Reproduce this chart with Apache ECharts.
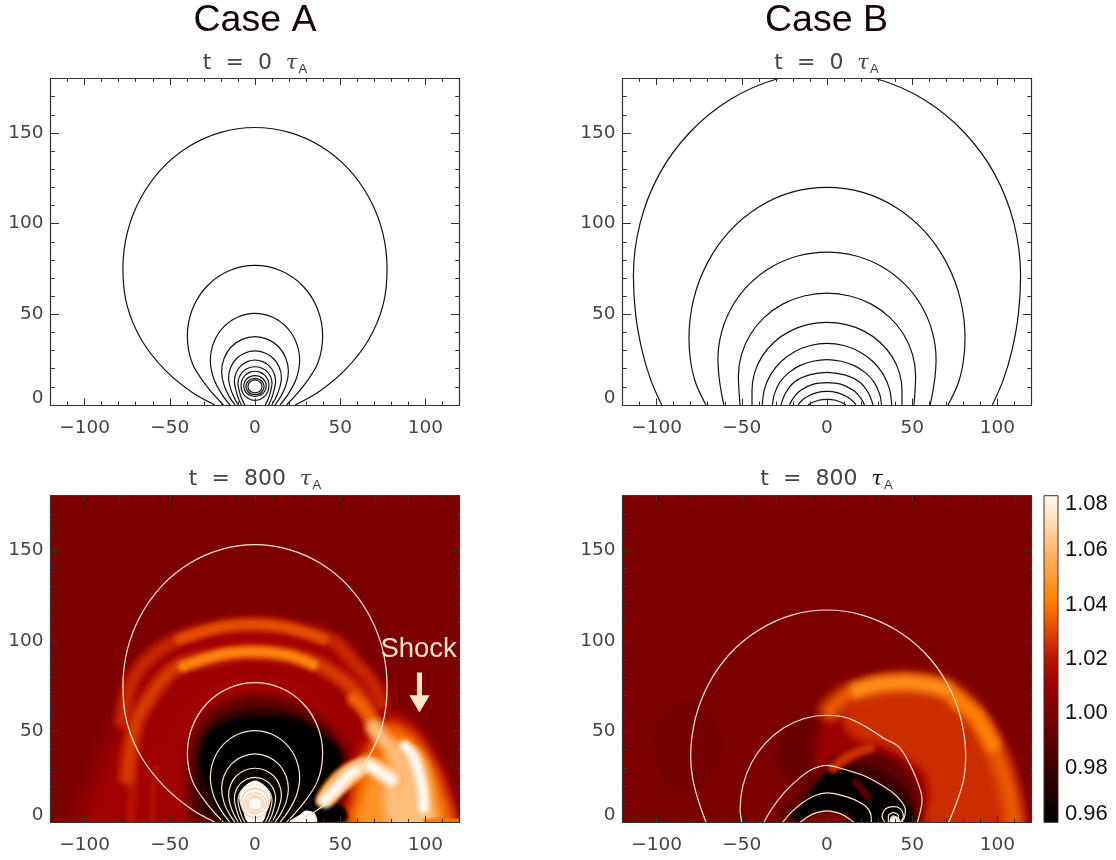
<!DOCTYPE html>
<html><head><meta charset="utf-8">
<style>html,body{margin:0;padding:0;background:#fff}#c{width:1116px;height:860px}</style>
<script src="https://cdn.jsdelivr.net/npm/echarts@6/dist/echarts.min.js"></script>
</head><body><div id="c"></div>
<script>
// ---------- axis ticks ----------
const xMajor=[-100,-50,0,50,100];
const xMinor=[-110,-90,-80,-70,-60,-40,-30,-20,-10,10,20,30,40,60,70,80,90,110];
const yMajor=[0,50,100,150];
const yMinor=[10,20,30,40,60,70,80,90,110,120,130,140,160,170];
const barTicks=[0.96,0.98,1.00,1.02,1.04,1.06,1.08];
// colour ramp, one colour every 0.01 from 0.96 to 1.08
const ramp=['#000000','#1e0000','#3c0000','#5c0000','#7d0000','#9c0000','#b81400','#de4600','#ff7a00','#ff9a30','#ffb86e','#ffdcb4','#fffaf4'];

// ---------- contours: half profiles, mirrored about x=0 ----------
const contoursA=[
 [[0,153],[20.1,150.3],[38.8,142.5],[54.8,130.2],[67.1,114],[74.9,95.2],[77.5,75],[75,54.6],[66.5,35.7],[53,19.5],[37,7],[23.5,0]],
 [[0,77],[15.2,74],[28.1,65.6],[36.7,52.9],[39.7,38],[36.7,22.7],[28,10],[18.5,0]],
 [[0,50.5],[10,48.5],[18.5,42.9],[24.2,34.5],[26.2,24.5],[24.2,14.5],[19.5,6],[14.7,0]],
 [[0,37.7],[7.5,36.2],[13.9,32.1],[18.1,25.8],[19.6,18.5],[18.2,11],[15,4.5],[11.7,0]],
 [[0,29.8],[5.9,28.7],[11,25.5],[14.3,20.7],[15.5,15],[14.4,9.3],[12.2,4],[9.8,0]],
 [[0,24.8],[4.6,23.9],[8.6,21.3],[11.2,17.5],[12.1,13],[11.2,8.2],[9.8,3.8],[8,0]],
 [[0,21.1],[3.8,20.4],[7.1,18.4],[9.2,15.5],[10,12],[9.2,7.5],[7.8,3.4],[6,0]],
 [[0,18.6],[3.1,18],[5.8,16.3],[7.6,13.8],[8.2,10.8],[7.6,7.6],[5.8,4.9],[3.1,3.2],[0,2.5]],
 [[0,16.2],[2.5,15.8],[4.7,14.5],[6.1,12.7],[6.6,10.5],[6.1,8.3],[4.7,6.5],[2.5,5.2],[0,4.7]],
 [[0,14.7],[2,14.3],[3.7,13.4],[4.9,11.9],[5.3,10.2],[4.9,8.5],[3.7,7],[2,6],[0,5.7]],
 [[0,13.8],[1.6,13.5],[2.9,12.7],[3.8,11.6],[4.1,10.2],[3.8,8.8],[2.9,7.7],[1.6,7],[0,6.7]]
];
const contoursB=[
 [[0,183.5],[29.4,179.7],[56.8,168.4],[80.3,150.5],[98.4,127.3],[109.7,100.1],[113.6,71],[112.3,50],[108.5,30],[103.5,14],[97,0]],
 [[0,120],[21,117.2],[40.5,108.9],[57.3,95.7],[70.1,78.5],[78.2,58.5],[81,37],[80,24],[77,12],[71,0]],
 [[0,84.3],[16.6,82.3],[32,76.4],[45.3,66.9],[55.4,54.7],[61.8,40.3],[64,25],[63.3,15],[62,7],[60.5,0]],
 [[0,61.7],[13.5,60.1],[26,55.6],[36.8,48.3],[45,38.9],[50.2,27.8],[52,16],[51.6,7],[51,0]],
 [[0,45.6],[11.4,44.3],[22,40.6],[31.1,34.6],[38.1,26.8],[42.5,17.7],[44,8],[44,0]],
 [[0,34],[9.8,32.8],[19,29.4],[26.9,24],[32.9,17],[36.7,8.8],[38,0]],
 [[0,25],[8.3,24.1],[16,21.7],[22.6,17.7],[27.7,12.5],[30.9,6],[32,0]],
 [[0,18],[10.3,16.6],[19.1,12.7],[24.4,6.5],[27,0]],
 [[0,12.3],[8.4,11.4],[15.6,8],[19.8,3.8],[22,0]],
 [[0,7.5],[6,6.8],[12,4.4],[15.5,1.8],[17,0]],
 [[0,3.1],[5,2.6],[9,1.2],[11,0]]
];
// Case B at t=800: contours are no longer symmetric
const contoursB800=[
 [[-71,0],[-75.5,12],[-78.8,24],[-80,36],[-77.3,57],[-69.3,76.5],[-56.6,93.3],[-40,106],[-20.7,114.2],[0,117],[20.7,114.2],[40.5,106],[57.5,93.3],[70.5,76.5],[78.6,57],[81.4,36],[80.3,24],[76.5,12],[71.4,0]],
 [[-50,0],[-51,7],[-49.3,20.5],[-44.2,33],[-36,43.8],[-25.5,52],[-13.2,57.2],[0,59],[12,57.5],[24,52],[33,46.5],[42,41.7],[47.5,34],[52,25],[55,17],[55.8,12],[54.5,5],[53,0]],
 [[-37,0],[-32,8],[-25,16.5],[-16,24.5],[-8,29.5],[0,31.4],[7.8,29.8],[16,27.5],[23.5,25],[32,20.5],[39,16],[44,11],[46,6.8],[45.5,3],[44,0]],
 [[-26,0],[-21,5.5],[-14,11],[-7,14.8],[0,16.2],[8,15],[16,12.5],[23,8.6],[25.8,4],[26,0]],
 [[-15.7,0],[-11,3.2],[-6,5.3],[0,6.3],[6,5.3],[11,3.2],[15.7,0]],
 [[34,0],[32.3,3],[33.5,6.5],[36,8.2],[39,8.6],[42,8.2],[44.2,6],[44.8,3],[43,0]],
 [[36,0],[36,3.5],[39,5.3],[42,3.5],[42,0]],
 [[37,0],[37.5,2.5],[39,3.5],[40.5,2.5],[41,0]]
];

// ---------- density field, read off the picture as layered regions ----------
// l: density level, s: style key, p: outline in data units
const layersA=[
 {l:1.00,s:'flat',p:[[-125,-5],[125,-5],[125,185],[-125,185]]},
 {l:1.011,s:'wide',p:[[-92,-5],[-86,25],[-76,48],[-64,64],[-48,78],[-30,88],[-10,92],[10,92],[30,88],[50,78],[66,60],[66,-5]]},
 {l:1.02,s:'band8',p:[[-73,-2],[-72,20],[-73,42]]},
 {l:1.018,s:'band6',p:[[-60,-2],[-60,15],[-58,30]]},
 {l:1.013,s:'band30',p:[[-70,58],[-60,75],[-45,88],[-20,98],[0,100],[25,98],[45,90],[60,74],[68,60]]},
 {l:1.024,s:'band12',p:[[-78,56],[-72,78],[-60,92],[-42,102],[-20,107.5],[0,109],[20,107],[46,99.6],[58,88],[69,76.6],[74,66]]},
 {l:1.032,s:'band8',p:[[-44,101],[-20,107.5],[0,109],[20,107],[40,101]]},
 {l:1.028,s:'band12',p:[[-75,25],[-73,41.7],[-67.5,60],[-48,84],[-25,91],[0,94],[30,89.5],[46,82],[62,69],[69.5,52.8]]},
 {l:1.044,s:'band8',p:[[-42,86],[-20,92.5],[0,94],[20,92],[34,87]]},
 {l:0.99,s:'soft',p:[[-30,2],[-35,25],[-33,44],[-24,57],[-5,65],[20,62],[36,53],[48,41],[52,30],[46,8],[36,2]]},
 {l:0.975,s:'mild',p:[[-27,5],[-33,28],[-30,45],[-19,56],[0,61],[22,58],[37,50],[49,38],[47,24],[41,12],[35,2]]},
 {l:0.96,s:'mild',p:[[-20,8],[-29,28],[-27,44],[-18,52],[0,56],[25,54],[38,46],[48,36],[44,27],[36,14],[33,2],[15,0],[-15,0]]},
 {l:1.02,s:'soft',p:[[56,0],[59,16],[61,30],[67,44],[73,54],[82,56],[93,49],[103,35],[111,18],[114,0]]},
 {l:1.036,s:'soft',p:[[60,0],[62,14],[64,28],[72,41],[79,50],[90,45],[100,32],[107,16],[110,0]]},
 {l:1.048,s:'soft',p:[[66,0],[68,14],[72,25],[79,35],[84,42],[90,39],[97,29],[102,14],[104,0]]},
 {l:1.062,s:'soft',p:[[84,0],[80,16],[83,28],[89,36],[94,34],[98,22],[100,8],[100,0]]},
 {l:1.036,s:'band10',p:[[58,68],[66,60],[72,50],[76,42]]},
 {l:1.062,s:'band12',p:[[70,52],[75,46],[78,43],[84,34],[86,28]]},
 {l:1.08,s:'band8',p:[[88,42],[92,38],[96,28],[98.5,16],[99,8]]},
 {l:0.96,s:'mild',p:[[38,6],[44,8],[50,7],[52,3],[48,2],[39,2]]},
 {l:1.05,s:'mild',p:[[38,12],[44,22],[52,29],[61,33],[66,31],[59,24],[50,17],[43,11]]},
 {l:1.08,s:'band10',p:[[41,12],[44,15],[48,19],[55,26],[60,29],[63,31]]},
 {l:1.058,s:'band12',p:[[66,32],[70,30],[73,28],[78,25],[82,23]]},
 {l:1.08,s:'band10',p:[[68,31],[70,30],[73,28],[77,25.5],[80,23.5]]},
 {l:1.04,s:'band3',p:[[100,1],[110,1],[120,1]]},
 {l:1.08,s:'sharp',p:[[20,0],[26,4],[30,6.5],[35,5],[36,0]]},
 {l:1.08,s:'sharp',p:[[-4,0],[-7,6],[-9.3,13],[-7,19],[0,23],[7,19],[9.3,13],[7,6],[4,0]]}
];
const layersB=[
 {l:1.00,s:'flat',p:[[-125,-5],[125,-5],[125,185],[-125,185]]},
 {l:0.998,s:'soft',p:[[-95,50],[-82,60],[-70,52],[-72,30],[-88,22]]},
 {l:0.994,s:'soft',p:[[-22,30],[-20,48],[-12,52],[-8,40],[-10,28]]},
 {l:1.01,s:'soft',p:[[-2,32],[0,50],[8,62],[25,72],[50,74],[72,70],[88,58],[101,42],[109,20],[111,0],[20,0]]},
 {l:1.025,s:'soft',p:[[14,58],[26,66],[45,70],[66,68],[82,56],[94,40],[102,20],[105,0],[62,0],[64,15],[60,30],[46,40],[32,47],[18,50]]},
 {l:1.034,s:'band16',p:[[2,62],[12,70],[28,75],[45,77],[68,74],[86,60],[98,41],[106,20],[110,0]]},
 {l:1.046,s:'band12',p:[[18,73],[30,76],[45,77],[60,75.5],[70,73]]},
 {l:1.042,s:'band12',p:[[76,68],[82,63],[87,59],[93,50],[97,43]]},
 {l:0.99,s:'soft',p:[[-22,3],[-13,14],[-4,23],[6,31],[20,35],[36,31],[46,22],[50,10],[49,3]]},
 {l:0.98,s:'mild',p:[[-20,3],[-12,10],[-4,21],[6,28],[24,29],[40,21],[48,10],[48,2]]},
 {l:0.96,s:'mild',p:[[-18,4],[-12,9],[-4,20],[6,27],[25,21],[38,14],[46,7],[47,1],[18,0],[15,6],[0,8],[-15,5]]},
 {l:1.00,s:'mild',p:[[-13,-3],[-8,2],[0,4],[8,2],[13,-3]]},
 {l:1.026,s:'band8',p:[[4,30],[9,34],[14,37],[19,39],[25,41]]},
 {l:0.99,s:'band6',p:[[17,22],[24,14]]},
 {l:1.08,s:'sharp',p:[[37,0],[38,2.5],[40,3.5],[42,2.5],[43,0]]}
];
// annotation in Case A, t=800
const shockLabel=[96,95.5,'Shock'];
const shockArrow=[[95,82.5],[98,82.5],[98,70],[102.5,70],[96.5,60.5],[90.5,70],[95,70]];

// ---------- layout and styles ----------
const FONT='"DejaVu Sans"', HELV='"Liberation Sans"';
const panels=[
 {left:50.5,top:78.5,width:409,height:326.5},
 {left:622.5,top:78.5,width:409,height:326.5},
 {left:50.5,top:495.7,width:409,height:326.6},
 {left:622.5,top:495.7,width:409,height:326.6}
];
const styles={
 flat:{f:0},sharp:{f:0},mild:{f:7},soft:{f:16},wide:{f:34},
 band3:{w:3},band6:{w:6},band8:{w:8},band10:{w:10},band12:{w:12},band16:{w:16},band30:{w:30}
};
const xAxis=[],yAxis=[],series=[],title=[];
function addAxes(g){
 const base={type:'value',gridIndex:g,z:10,splitLine:{show:false}};
 const mk=(vals,pos,len,labels,showLine,isX)=>Object.assign({},base,{
  position:pos,
  min:isX?-120:0,max:isX?120:180,
  axisLine:{show:showLine,onZero:false,lineStyle:{color:'#333',width:1.2}},
  axisTick:{show:true,inside:true,length:len,customValues:vals,lineStyle:{color:'#333',width:1}},
  axisLabel:labels?{show:true,customValues:vals,fontFamily:FONT,fontSize:18.5,color:'#444',lineHeight:14,
    margin:isX?16:7,verticalAlignMinLabel:isX?undefined:'bottom',
    formatter:v=>String(v).replace('-','\u2212')}:{show:false}
 });
 const xi=xAxis.length,yi=yAxis.length;
 xAxis.push(mk(xMajor,'bottom',6.5,true,true,true),mk(xMinor,'bottom',3.5,false,false,true),
            mk(xMajor,'top',6.5,false,true,true),mk(xMinor,'top',3.5,false,false,true));
 yAxis.push(mk(yMajor,'left',8.5,true,true,false),mk(yMinor,'left',4.3,false,false,false),
            mk(yMajor,'right',8.5,false,true,false),mk(yMinor,'right',4.3,false,false,false));
 return [xi,yi];
}
function mirrored(h){return h.slice().reverse().map(p=>[-p[0],p[1]]).concat(h.slice(1));}
function addLines(axes,lines,color,width){
 lines.forEach(d=>series.push({type:'line',xAxisIndex:axes[0],yAxisIndex:axes[1],data:d,showSymbol:false,smooth:.33,
   silent:true,z:3,clip:true,lineStyle:{color:color,width:width}}));
}
// opacity of each nested stroke so that the stacked strokes fall off along an S curve
function softSteps(N,peak){
 const out=[];let prev=0;
 for(let k=N;k>=1;k--){
  const t=(N-k+1)/N,c=peak*t*t*(3-2*t);
  out.push({k,a:(c-prev)/(1-prev)});prev=c;
 }
 return out;
}
const heatSeries=[];
function addField(axes,layers){
 heatSeries.push(series.length);
 series.push({type:'custom',xAxisIndex:axes[0],yAxisIndex:axes[1],z:1,clip:true,silent:true,
  encode:{x:2,y:3},
  data:layers.map((L,i)=>[i,L.l,0,0]),
  renderItem:(params,api)=>{
   const L=layers[api.value(0)],st=styles[L.s],col=api.visual('color');
   const pts=L.p.map(p=>api.coord(p));
   const kids=[];
   if(st.w){ // soft brush made of nested low-opacity strokes
    const N=Math.max(12,Math.ceil(st.w*1.2));
    softSteps(N,.97).forEach(({k,a})=>{
     kids.push({type:'polyline',shape:{points:pts,smooth:.33,smoothConstraint:false},silent:true,
      style:{fill:null,stroke:col,lineWidth:st.w*2.4*k/N,lineCap:'round',lineJoin:'round',opacity:a}});
    });
   }else{
    const smooth=L.s==='flat'?0:.33;
    if(st.f){
     const N=Math.max(8,Math.ceil(st.f));
     softSteps(N,.98).forEach(({k,a})=>kids.push({type:'polygon',shape:{points:pts,smooth,smoothConstraint:false},silent:true,
      style:{fill:null,stroke:col,lineWidth:2*st.f*k/N,lineJoin:'round',opacity:a}}));
    }
    kids.push({type:'polygon',shape:{points:pts,smooth,smoothConstraint:false},silent:true,style:{fill:col}});
   }
   return {type:'group',children:kids};
  }});
}
const ax=panels.map((p,i)=>addAxes(i));

addLines(ax[0],contoursA.map(mirrored),'#111',1.2);
addLines(ax[1],contoursB.map(mirrored),'#111',1.2);
addField(ax[2],layersA);
addLines(ax[2],contoursA.slice(0,7).map(mirrored),'#fde6cc',1.2);
addLines(ax[2],contoursA.slice(7).map(mirrored),'#f8bd92',1);
addField(ax[3],layersB);
addLines(ax[3],contoursB800,'#fde6cc',1.2);

// Shock arrow and label
series.push({type:'custom',xAxisIndex:ax[2][0],yAxisIndex:ax[2][1],z:5,silent:true,encode:{x:0,y:1},
 data:[[shockLabel[0],shockLabel[1]]],
 renderItem:(params,api)=>{
  const c=api.coord([api.value(0),api.value(1)]);
  return {type:'group',children:[
   {type:'polygon',shape:{points:shockArrow.map(p=>api.coord(p))},style:{fill:'#ffe4c8'}},
   {type:'text',x:c[0],y:c[1],style:{text:shockLabel[2],fill:'#ffe4c8',font:'27.5px '+HELV,textAlign:'center',textVerticalAlign:'middle'}}
  ]};
 }});

// Colour bar
const gBar=panels.length;
xAxis.push({type:'value',gridIndex:gBar,min:0,max:1,show:false});
yAxis.push({type:'value',gridIndex:gBar,min:0.96,max:1.08,interval:0.02,position:'right',z:10,
 axisLine:{show:false},axisTick:{show:false},splitLine:{show:false},
 axisLabel:{customValues:barTicks,fontFamily:HELV,fontSize:22,color:'#111',margin:7,lineHeight:16,
  verticalAlignMinLabel:'bottom',verticalAlignMaxLabel:'top',formatter:v=>v.toFixed(2)}});
series.push({type:'custom',xAxisIndex:xAxis.length-1,yAxisIndex:yAxis.length-1,z:1,silent:true,encode:{x:0,y:1},
 data:[[0,0.96,1,1.08]],
 renderItem:(params,api)=>{
  const a=api.coord([api.value(0),api.value(1)]),b=api.coord([api.value(2),api.value(3)]);
  return {type:'rect',shape:{x:a[0],y:b[1],width:b[0]-a[0],height:a[1]-b[1]},
   style:{stroke:'#333',lineWidth:1,
    fill:new echarts.graphic.LinearGradient(0,1,0,0,ramp.map((c,i)=>({offset:i/(ramp.length-1),color:c})))}};
 }});

// Titles
const sub=(x,y,txt,tau)=>({text:'{n|'+txt+'}{t|\u03c4}{s|A}',left:x,top:y,textAlign:'center',padding:0,
 textStyle:{rich:{
  n:{fontFamily:FONT,fontWeight:'normal',fontSize:22,color:'#444'},
  t:{fontFamily:'"DejaVu Serif"',fontWeight:'normal',fontStyle:'italic',fontSize:21,color:tau},
  s:{fontFamily:HELV,fontWeight:'normal',fontSize:13,color:'#333',padding:[12,0,0,1]}}}});
title.push(
 {text:'Case A',left:255,top:2,textAlign:'center',padding:0,textStyle:{fontFamily:HELV,fontWeight:'normal',fontSize:37.5,color:'#150505'}},
 {text:'Case B',left:826.5,top:2,textAlign:'center',padding:0,textStyle:{fontFamily:HELV,fontWeight:'normal',fontSize:37.5,color:'#150505'}},
 sub(255,51,'t  =  0  ','#444'),sub(826.5,51,'t  =  0  ','#444'),
 sub(255,467,'t  =  800  ','#444'),sub(826.5,467,'t  =  800  ','#111')
);

const chart=echarts.init(document.getElementById('c'),null,{renderer:'canvas'});
chart.setOption({
 animation:false,backgroundColor:'#fff',title,
 grid:panels.concat([{left:1044,top:495.7,width:14,height:326.6}]).map(g=>Object.assign({containLabel:false},g)),
 xAxis,yAxis,
 visualMap:{type:'continuous',show:false,seriesIndex:heatSeries,dimension:1,min:0.96,max:1.08,inRange:{color:ramp}},
 series
});
</script></body></html>
